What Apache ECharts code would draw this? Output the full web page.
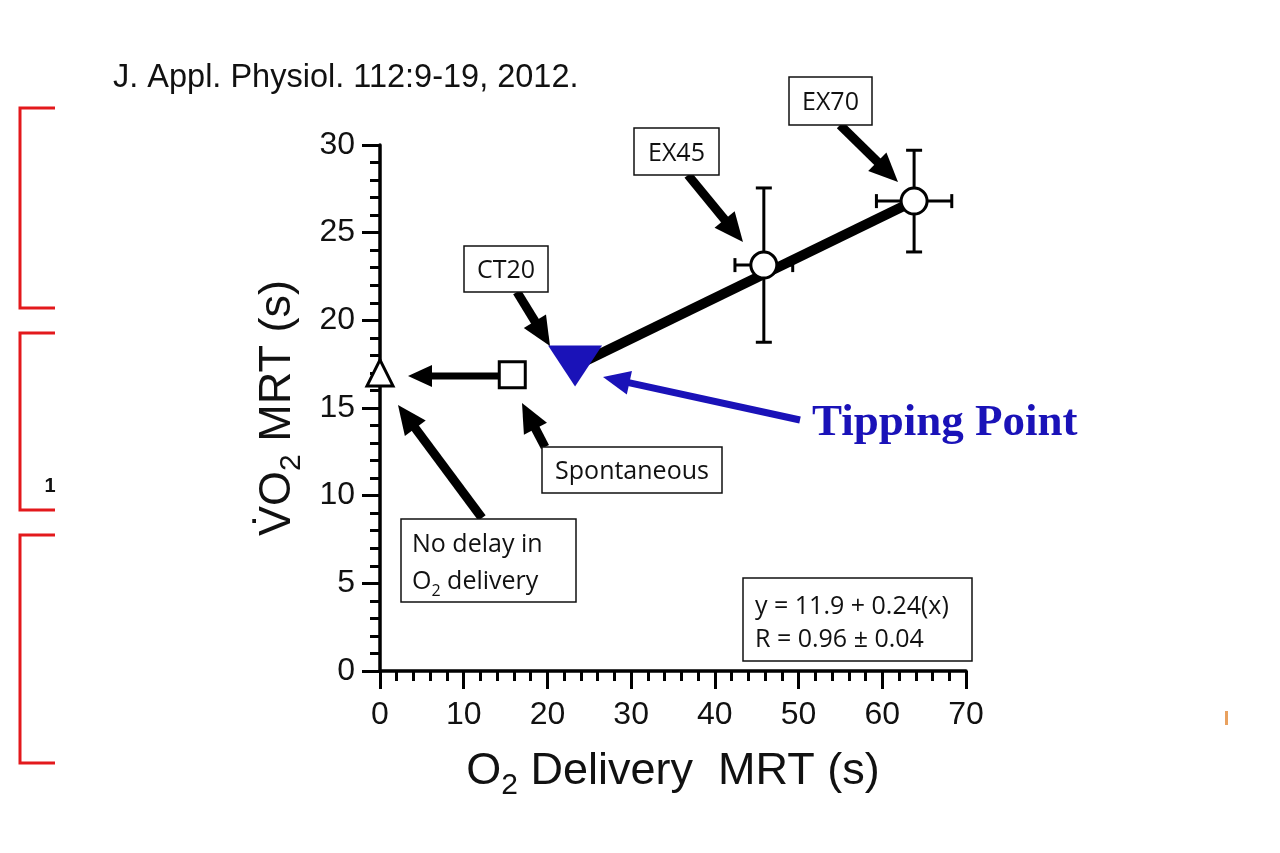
<!DOCTYPE html>
<html>
<head>
<meta charset="utf-8">
<script src="https://cdn.jsdelivr.net/npm/echarts@6/dist/echarts.min.js"></script>
<style>
html,body{margin:0;padding:0;background:#fff;}
#chart{width:1280px;height:853px;}
</style>
</head>
<body>
<div id="chart"></div>
<script>
// ---- data ----
const categories = ['No delay in O2 delivery', 'Spontaneous', 'CT20', 'EX45', 'EX70'];
const o2DeliveryMRT = [0, 15.8, 23.3, 45.85, 63.8];
const vo2MRT = [17.0, 16.9, 17.4, 23.15, 26.8];
const o2DeliveryErr = [0, 0, 0, 3.45, 4.5];
const vo2Err = [0, 0, 0, 4.4, 2.9];
const fitX = [23.3, 63.8];
const fitY = [17.4, 26.8];
const xTicks = [0, 10, 20, 30, 40, 50, 60, 70];
const yTicks = [0, 5, 10, 15, 20, 25, 30];

// ---- styles ----
const BLUE = '#1a12b8';
const SANS = 'Liberation Sans, Arial, sans-serif';
const CAL = 'Open Sans, sans-serif';
const markerStyles = [
  { symbol: 'triangle', symbolSize: [26, 26], symbolRotate: 0, itemStyle: { color: '#fff', borderColor: '#000', borderWidth: 3, opacity: 1 } },
  { symbol: 'rect', symbolSize: [26, 26], symbolRotate: 0, itemStyle: { color: '#fff', borderColor: '#000', borderWidth: 3, opacity: 1 } },
  { symbol: 'triangle', symbolSize: [54, 41], symbolRotate: 180, itemStyle: { color: BLUE, borderWidth: 0, opacity: 1 } },
  { symbol: 'circle', symbolSize: [26, 26], symbolRotate: 0, itemStyle: { color: '#fff', borderColor: '#000', borderWidth: 3, opacity: 1 } },
  { symbol: 'circle', symbolSize: [26, 26], symbolRotate: 0, itemStyle: { color: '#fff', borderColor: '#000', borderWidth: 3, opacity: 1 } }
];

const pointData = categories.map((c, i) => Object.assign({ name: c, value: [o2DeliveryMRT[i], vo2MRT[i]] }, markerStyles[i]));
const errData = categories.map((c, i) => [o2DeliveryMRT[i], vo2MRT[i], o2DeliveryErr[i], vo2Err[i]]).filter(d => d[2] > 0 || d[3] > 0);
const fitData = fitX.map((x, i) => [x, fitY[i]]);

// ---- annotation graphics ----
const G = [];
function arrow(x1, y1, x2, y2, w, hl, hw, color) {
  const dx = x2 - x1, dy = y2 - y1, L = Math.hypot(dx, dy), ux = dx / L, uy = dy / L;
  const bx = x2 - ux * hl, by = y2 - uy * hl, px = -uy, py = ux;
  G.push({ type: 'line', z: 20, shape: { x1: x1, y1: y1, x2: bx + ux * 2, y2: by + uy * 2 }, style: { stroke: color, lineWidth: w } });
  G.push({ type: 'polygon', z: 20, shape: { points: [[x2, y2], [bx + px * hw / 2, by + py * hw / 2], [bx - px * hw / 2, by - py * hw / 2]] }, style: { fill: color } });
}
function box(x, y, w, h) {
  G.push({ type: 'rect', z: 21, shape: { x: x, y: y, width: w, height: h }, style: { fill: '#fff', stroke: '#111', lineWidth: 1.5 } });
}
function txt(x, y, text, opts) {
  G.push({ type: 'text', z: 22, x: x, y: y + 2, style: Object.assign({ text: text, fill: '#111', font: '25px ' + CAL, textAlign: 'center', textVerticalAlign: 'middle' }, opts || {}) });
}

// red brackets
[[108, 308], [333, 510], [535, 763]].forEach(b => {
  G.push({ type: 'polyline', z: 5, shape: { points: [[55, b[0]], [20, b[0]], [20, b[1]], [55, b[1]]] }, style: { stroke: '#e3191c', lineWidth: 3, fill: null } });
});
G.push({ type: 'text', z: 5, x: 50, y: 486, style: { text: '1', font: 'bold 20px ' + SANS, fill: '#111', textAlign: 'center', textVerticalAlign: 'middle' } });
G.push({ type: 'rect', z: 5, shape: { x: 1225, y: 711, width: 3, height: 14 }, style: { fill: '#e9a15f' } });

// arrows
arrow(498, 376, 408, 376, 7, 24, 22, '#000');
arrow(482, 518, 398, 405, 9, 29, 26, '#000');
arrow(545, 447, 522, 403, 9, 29, 26, '#000');
arrow(517, 292, 550, 346, 9, 29, 26, '#000');
arrow(688, 175, 743, 242, 9, 29, 26, '#000');
arrow(840, 125, 898, 182, 9, 29, 26, '#000');
arrow(800, 420, 603, 377, 7, 27, 24, BLUE);

// boxes + labels
box(789, 77, 83, 48); txt(830.5, 101, 'EX70');
box(634, 128, 85, 47); txt(676.5, 151.5, 'EX45');
box(464, 246, 84, 46); txt(506, 269, 'CT20');
box(542, 447, 180, 46); txt(632, 470, 'Spontaneous');
box(401, 519, 175, 83);
txt(412, 543, 'No delay in', { textAlign: 'left' });
G.push({ type: 'text', z: 22, x: 412, y: 582, style: { text: '{m|O}{s|2}{m| delivery}', textAlign: 'left', textVerticalAlign: 'middle', fill: '#111',
  rich: { m: { fontSize: 25, fontFamily: CAL, lineHeight: 25, verticalAlign: 'top', fill: '#111' }, s: { fontSize: 16, fontFamily: CAL, lineHeight: 16, padding: [14, 0, 0, 0], verticalAlign: 'top', fill: '#111' } } } });
box(743, 578, 229, 83);
txt(755, 605, 'y = 11.9 + 0.24(x)', { textAlign: 'left' });
txt(755, 638, 'R = 0.96 \u00b1 0.04', { textAlign: 'left' });

G.push({ type: 'text', z: 22, x: 812, y: 423, style: { text: 'Tipping Point', font: 'bold 45px Liberation Serif, Times New Roman, serif', fill: BLUE, textAlign: 'left', textVerticalAlign: 'middle' } });

// ---- chart ----
const chart = echarts.init(document.getElementById('chart'), null, { renderer: 'canvas' });
const axisCommon = {
  type: 'value',
  axisLine: { show: true, onZero: false, lineStyle: { color: '#000', width: 3.5 } },
  axisTick: { show: true, inside: false, length: 18, lineStyle: { color: '#000', width: 3 } },
  minorTick: { show: true, splitNumber: 5, length: 10, lineStyle: { color: '#000', width: 3 } },
  splitLine: { show: false },
  minorSplitLine: { show: false },
  axisLabel: { color: '#111', fontSize: 32, fontFamily: SANS, margin: 25 }
};
const nameRich = {
  m: { fontSize: 45, fontFamily: SANS, lineHeight: 45, verticalAlign: 'top', color: '#111' },
  s: { fontSize: 30, fontFamily: SANS, lineHeight: 30, padding: [22, 0, 0, 0], verticalAlign: 'top', color: '#111' }
};
chart.setOption({
  animation: false,
  backgroundColor: '#fff',
  title: {
    text: 'J. Appl. Physiol. 112:9-19, 2012.',
    left: 113, top: 62, padding: 0,
    textStyle: { fontFamily: SANS, fontSize: 32.5, fontWeight: 'normal', color: '#111' }
  },
  grid: { left: 380, right: 314, top: 145, bottom: 182, containLabel: false },
  xAxis: Object.assign({}, axisCommon, {
    min: xTicks[0], max: xTicks[xTicks.length - 1], interval: xTicks[1] - xTicks[0],
    axisLabel: Object.assign({}, axisCommon.axisLabel, { margin: 28 }),
    name: '{m|O}{s|2}{m| Delivery  MRT (s)}',
    nameLocation: 'middle', nameGap: 78,
    nameTextStyle: { rich: nameRich }
  }),
  yAxis: Object.assign({}, axisCommon, {
    min: yTicks[0], max: yTicks[yTicks.length - 1], interval: yTicks[1] - yTicks[0],
    name: '{m|V\u0307O}{s|2}{m| MRT (s)}',
    nameLocation: 'middle', nameGap: 80, nameRotate: 90,
    nameTextStyle: { rich: nameRich }
  }),
  series: [
    {
      type: 'line', data: fitData, symbol: 'none', silent: true, z: 2,
      lineStyle: { color: '#000', width: 10 }
    },
    {
      type: 'custom', data: errData, z: 3, silent: true,
      renderItem: function (params, api) {
        const x = api.value(0), y = api.value(1), xe = api.value(2), ye = api.value(3);
        const t = api.coord([x, y + ye]), b = api.coord([x, y - ye]);
        const l = api.coord([x - xe, y]), r = api.coord([x + xe, y]);
        const cap = 8, st = { stroke: '#000', lineWidth: 3 };
        const seg = (a, c, d, e) => ({ type: 'line', shape: { x1: a, y1: c, x2: d, y2: e }, style: st });
        return { type: 'group', children: [
          seg(t[0], t[1], b[0], b[1]),
          seg(t[0] - cap, t[1], t[0] + cap, t[1]),
          seg(b[0] - cap, b[1], b[0] + cap, b[1]),
          seg(l[0], l[1], r[0], r[1]),
          seg(l[0], l[1] - 7, l[0], l[1] + 7),
          seg(r[0], r[1] - 7, r[0], r[1] + 7)
        ] };
      }
    },
    {
      type: 'scatter', data: pointData, z: 4, silent: true,
      itemStyle: { opacity: 1 }
    }
  ],
  graphic: G
});
</script>
</body>
</html>
